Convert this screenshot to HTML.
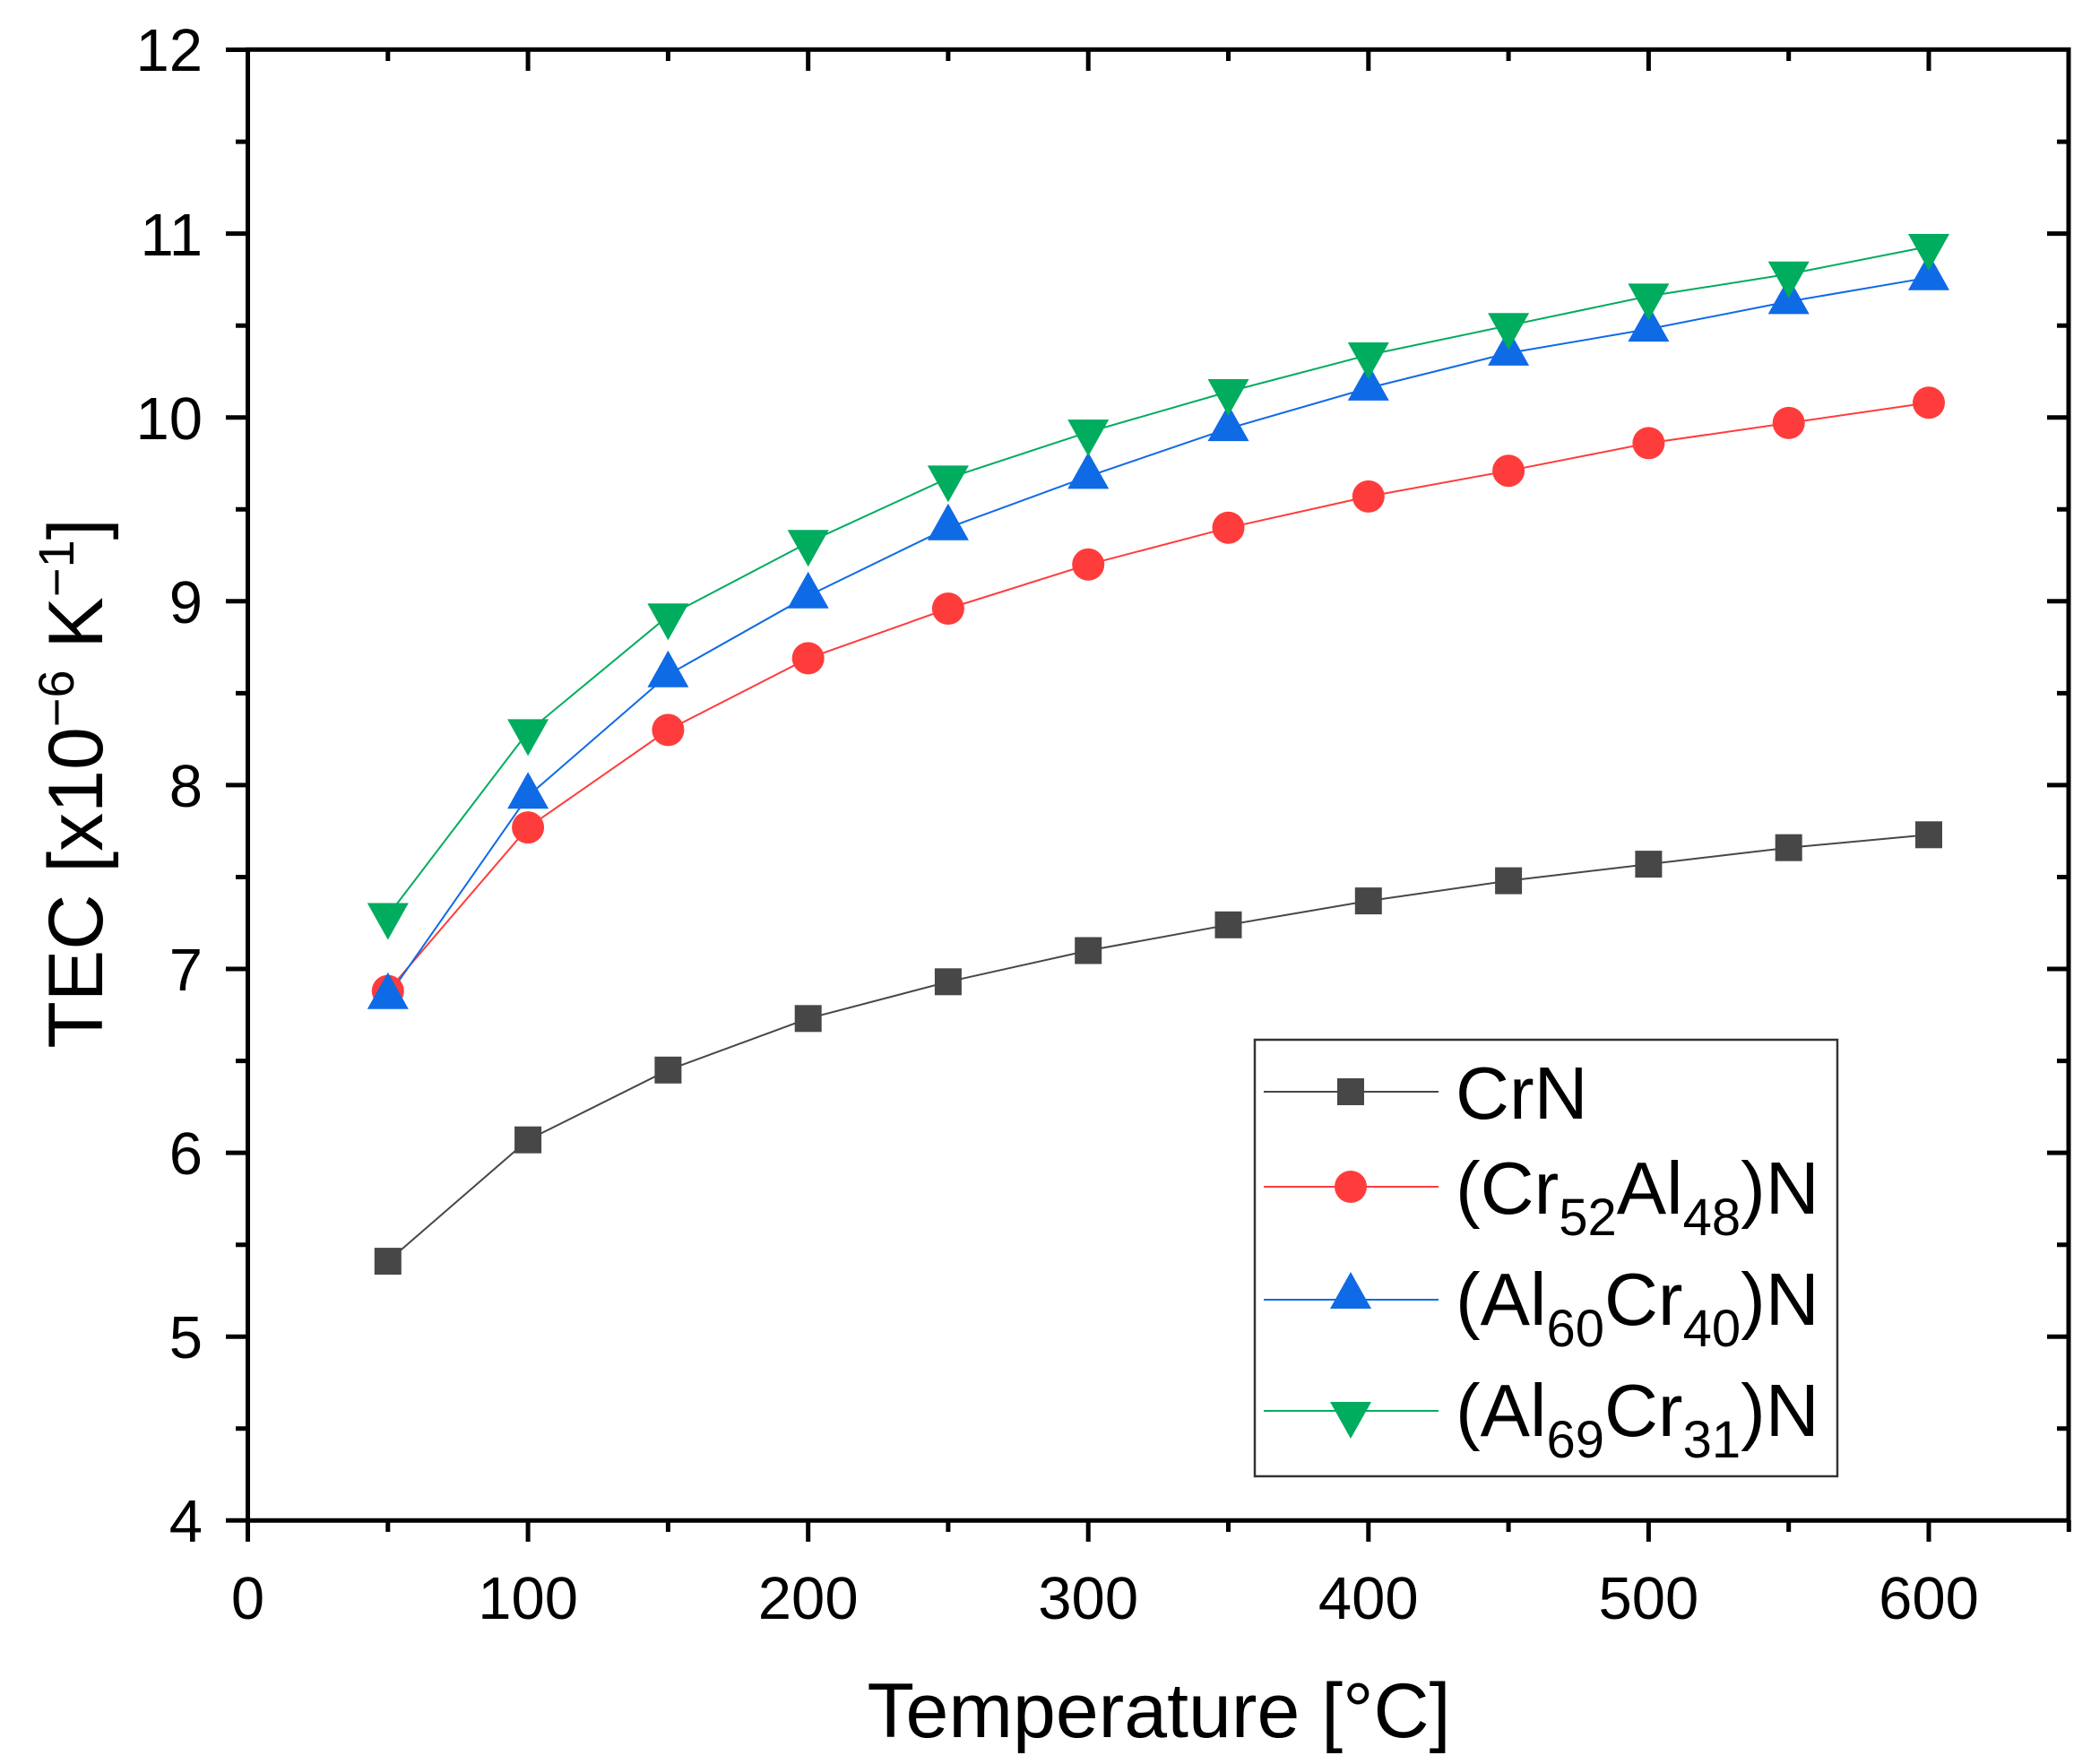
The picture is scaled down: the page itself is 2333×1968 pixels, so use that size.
<!DOCTYPE html>
<html><head><meta charset="utf-8"><style>body{margin:0;background:#fff}svg{display:block}</style></head><body>
<svg width="2333" height="1968" viewBox="0 0 2333 1968" xmlns="http://www.w3.org/2000/svg" font-family="Liberation Sans, Arial, sans-serif">
<defs>
<rect id="sq" x="-15" y="-15" width="30" height="30" fill="#474747"/>
<circle id="ci" r="18" fill="#ff3c3c"/>
<polygon id="tu" points="0,-27 23,14 -23,14" fill="#0f6ae6"/>
<polygon id="td" points="0,27 23,-14 -23,-14" fill="#00ac5e"/>
</defs>
<g fill="none" stroke-width="2">
<polyline stroke="#474747" points="432.8,1407.1 589.1,1271.7 745.4,1193.8 901.7,1136.3 1057.9,1095.3 1214.2,1060.5 1370.5,1031.8 1526.8,1005.1 1683.1,982.6 1839.4,964.1 1995.7,945.7 2152,931.3"/>
<polyline stroke="#ff3c3c" points="432.8,1105.6 589.1,923.1 745.4,814.4 901.7,734.4 1057.9,679 1214.2,629.8 1370.5,588.8 1526.8,553.9 1683.1,525.2 1839.4,494.4 1995.7,471.9 2152,449.3"/>
<polyline stroke="#0f6ae6" points="432.8,1111.8 589.1,888.2 745.4,752.8 901.7,664.7 1057.9,588.8 1214.2,531.4 1370.5,478.1 1526.8,432.9 1683.1,393.9 1839.4,367.1 1995.7,336.4 2152,309.7"/>
<polyline stroke="#00ac5e" points="432.8,1021.5 589.1,816.4 745.4,687.2 901.7,605.2 1057.9,533.4 1214.2,482.1 1370.5,437 1526.8,396 1683.1,363.2 1839.4,330.4 1995.7,305.8 2152,275"/>
</g>
<g>
<use href="#sq" x="432.8" y="1407.1"/><use href="#sq" x="589.1" y="1271.7"/><use href="#sq" x="745.4" y="1193.8"/><use href="#sq" x="901.7" y="1136.3"/><use href="#sq" x="1057.9" y="1095.3"/><use href="#sq" x="1214.2" y="1060.5"/><use href="#sq" x="1370.5" y="1031.8"/><use href="#sq" x="1526.8" y="1005.1"/><use href="#sq" x="1683.1" y="982.6"/><use href="#sq" x="1839.4" y="964.1"/><use href="#sq" x="1995.7" y="945.7"/><use href="#sq" x="2152" y="931.3"/>
<use href="#ci" x="432.8" y="1105.6"/><use href="#ci" x="589.1" y="923.1"/><use href="#ci" x="745.4" y="814.4"/><use href="#ci" x="901.7" y="734.4"/><use href="#ci" x="1057.9" y="679"/><use href="#ci" x="1214.2" y="629.8"/><use href="#ci" x="1370.5" y="588.8"/><use href="#ci" x="1526.8" y="553.9"/><use href="#ci" x="1683.1" y="525.2"/><use href="#ci" x="1839.4" y="494.4"/><use href="#ci" x="1995.7" y="471.9"/><use href="#ci" x="2152" y="449.3"/>
<use href="#tu" x="432.8" y="1111.8"/><use href="#tu" x="589.1" y="888.2"/><use href="#tu" x="745.4" y="752.8"/><use href="#tu" x="901.7" y="664.7"/><use href="#tu" x="1057.9" y="588.8"/><use href="#tu" x="1214.2" y="531.4"/><use href="#tu" x="1370.5" y="478.1"/><use href="#tu" x="1526.8" y="432.9"/><use href="#tu" x="1683.1" y="393.9"/><use href="#tu" x="1839.4" y="367.1"/><use href="#tu" x="1995.7" y="336.4"/><use href="#tu" x="2152" y="309.7"/>
<use href="#td" x="432.8" y="1021.5"/><use href="#td" x="589.1" y="816.4"/><use href="#td" x="745.4" y="687.2"/><use href="#td" x="901.7" y="605.2"/><use href="#td" x="1057.9" y="533.4"/><use href="#td" x="1214.2" y="482.1"/><use href="#td" x="1370.5" y="437"/><use href="#td" x="1526.8" y="396"/><use href="#td" x="1683.1" y="363.2"/><use href="#td" x="1839.4" y="330.4"/><use href="#td" x="1995.7" y="305.8"/><use href="#td" x="2152" y="275"/>
</g>
<rect x="276.5" y="55.3" width="2031.5" height="1641" fill="none" stroke="#000" stroke-width="5"/>
<path stroke="#000" stroke-width="5" fill="none" d="
M276.5,1696v24 M432.8,1696v13 M589.1,1696v24 M745.4,1696v13 M901.7,1696v24 M1057.9,1696v13 M1214.2,1696v24 M1370.5,1696v13 M1526.8,1696v24 M1683.1,1696v13 M1839.4,1696v24 M1995.7,1696v13 M2152,1696v24 M2308.3,1696v13
M432.8,55v13 M589.1,55v24 M745.4,55v13 M901.7,55v24 M1057.9,55v13 M1214.2,55v24 M1370.5,55v13 M1526.8,55v24 M1683.1,55v13 M1839.4,55v24 M1995.7,55v13 M2152,55v24
M276,1696.3h-24 M276,1593.8h-13 M276,1491.2h-24 M276,1388.7h-13 M276,1286.1h-24 M276,1183.6h-13 M276,1081h-24 M276,978.5h-13 M276,875.9h-24 M276,773.4h-13 M276,670.8h-24 M276,568.3h-13 M276,465.7h-24 M276,363.2h-13 M276,260.6h-24 M276,158.1h-13 M276,55.5h-24
M2308,1593.8h-13 M2308,1491.2h-24 M2308,1388.7h-13 M2308,1286.1h-24 M2308,1183.6h-13 M2308,1081h-24 M2308,978.5h-13 M2308,875.9h-24 M2308,773.4h-13 M2308,670.8h-24 M2308,568.3h-13 M2308,465.7h-24 M2308,363.2h-13 M2308,260.6h-24 M2308,158.1h-13"/>
<g font-size="67" fill="#000" text-anchor="middle">
<text x="276.5" y="1806">0</text><text x="589.1" y="1806">100</text><text x="901.7" y="1806">200</text><text x="1214.2" y="1806">300</text><text x="1526.8" y="1806">400</text><text x="1839.4" y="1806">500</text><text x="2152" y="1806">600</text>
</g>
<g font-size="67" fill="#000" text-anchor="end">
<text x="226" y="1720">4</text><text x="226" y="1515">5</text><text x="226" y="1310">6</text><text x="226" y="1105">7</text><text x="226" y="900">8</text><text x="226" y="695">9</text><text x="226" y="490">10</text><text x="226" y="285">11</text><text x="226" y="79">12</text>
</g>
<text x="1293" y="1938" font-size="86" text-anchor="middle">Temperature [°C]</text>
<text transform="translate(114,874) rotate(-90)" font-size="86" text-anchor="middle">TEC [x10<tspan dy="-32" font-size="56">−6</tspan><tspan dy="32"> K</tspan><tspan dy="-32" font-size="56">−1</tspan><tspan dy="32">]</tspan></text>
<rect x="1400" y="1160" width="650" height="487" fill="#fff" stroke="#333" stroke-width="2.5"/>
<g font-size="83" fill="#000">
<line x1="1410" y1="1218" x2="1605" y2="1218" stroke="#474747" stroke-width="2"/><use href="#sq" x="1507" y="1218"/>
<text x="1624" y="1248">CrN</text>
<line x1="1410" y1="1324" x2="1605" y2="1324" stroke="#ff3c3c" stroke-width="2"/><use href="#ci" x="1507" y="1324"/>
<text x="1624" y="1354">(Cr<tspan dy="24" font-size="58">52</tspan><tspan dy="-24">Al</tspan><tspan dy="24" font-size="58">48</tspan><tspan dy="-24">)N</tspan></text>
<line x1="1410" y1="1450" x2="1605" y2="1450" stroke="#0f6ae6" stroke-width="2"/><use href="#tu" x="1507" y="1446"/>
<text x="1624" y="1478">(Al<tspan dy="24" font-size="58">60</tspan><tspan dy="-24">Cr</tspan><tspan dy="24" font-size="58">40</tspan><tspan dy="-24">)N</tspan></text>
<line x1="1410" y1="1574" x2="1605" y2="1574" stroke="#00ac5e" stroke-width="2"/><use href="#td" x="1507" y="1578"/>
<text x="1624" y="1602">(Al<tspan dy="24" font-size="58">69</tspan><tspan dy="-24">Cr</tspan><tspan dy="24" font-size="58">31</tspan><tspan dy="-24">)N</tspan></text>
</g>
</svg>
</body></html>
